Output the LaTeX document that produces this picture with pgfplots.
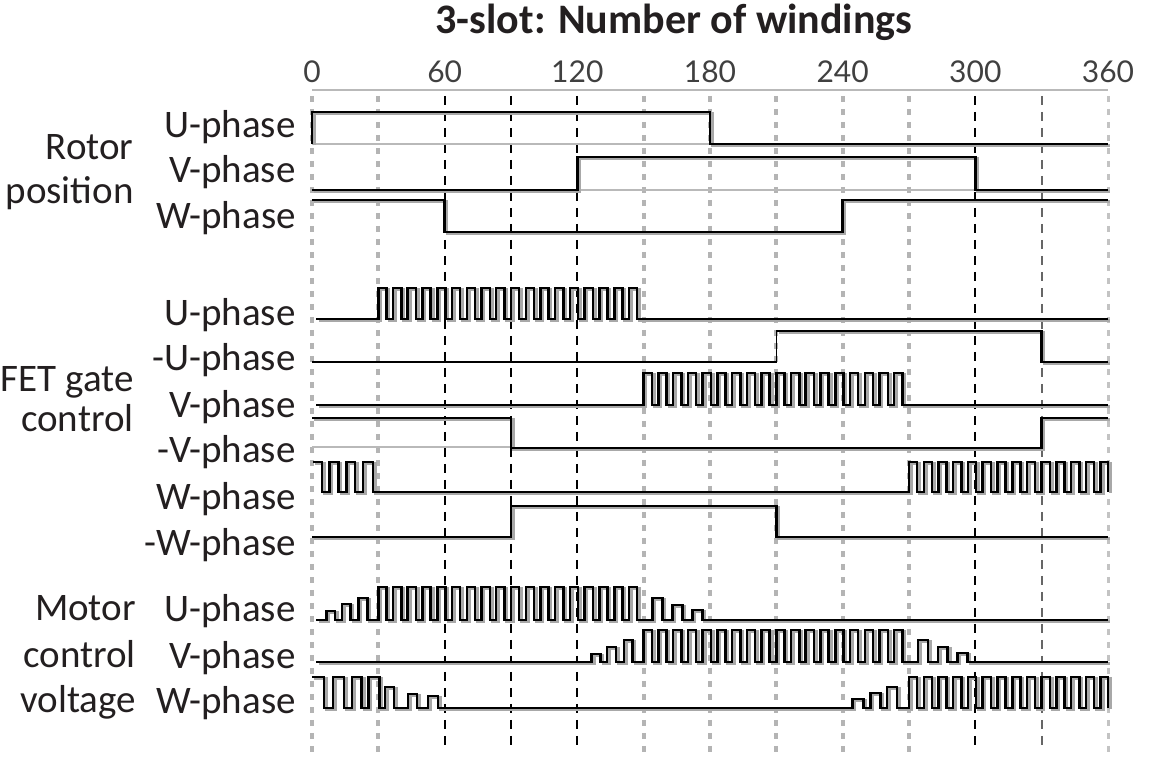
\documentclass[border=0pt]{standalone}
\usepackage{pgfplots}
\pgfplotsset{compat=1.18}
\usepackage{fontspec}
\setmainfont{Carlito}
\newfontfamily\tickfont{Lato}
\definecolor{txt}{HTML}{231F20}
\definecolor{shd}{HTML}{A8A8A8}
\definecolor{gdash}{HTML}{B4B4B4}
\newcommand{\sig}[1]{%
  \addplot[const plot, shd, line width=1.4pt, xshift=1.2pt, yshift=-0.7pt] coordinates {#1};
  \addplot[const plot, black, line width=1.25pt] coordinates {#1};}
\newcommand{\gline}[2]{\addplot[#1] coordinates {(#2,-96) (#2,-752)};}
\tikzset{
  tlab/.style={anchor=base east, font=\fontsize{19.5}{22}\selectfont, text=txt, inner sep=0pt},
  glab/.style={anchor=base east, font=\fontsize{19.5}{22}\selectfont, text=txt, inner sep=0pt},
  tklab/.style={anchor=base, font=\tickfont\fontsize{15}{17}\selectfont, text=black!75, inner sep=0pt},
  gdl/.style={gdash, line width=2pt, dash pattern=on 3pt off 3.5pt},
  bdl/.style={black, line width=1.1pt, dash pattern=on 4.5pt off 3.5pt},
}
\begin{document}
\begin{tikzpicture}
\begin{axis}[
  scale only axis, width=575pt, height=381.5pt,
  xmin=-141.1, xmax=379.0, ymin=-763, ymax=0,
  hide axis, clip=false,
]
\path (axis cs:-141.1,0) rectangle (axis cs:379,-763);
% vertical guide lines
\gline{gdl}{0}
\gline{gdl}{30}
\gline{bdl}{60}
\gline{bdl}{90}
\gline{bdl}{120}
\gline{gdl}{150}
\gline{gdl}{180}
\gline{gdl}{210}
\gline{gdl}{240}
\gline{gdl}{270}
\gline{bdl}{300}
\gline{black!60, line width=0.9pt, dash pattern=on 4.5pt off 3.5pt}{330}
\gline{gdash!80, line width=1.5pt, dash pattern=on 3pt off 3.5pt}{360}
% top line
\addplot[gray!55, line width=1pt] coordinates {(0,-90) (360,-90)};
% thin baselines
\addplot[gray!55, line width=0.6pt] coordinates {(0,-144) (180,-144)};
\addplot[gray!55, line width=0.6pt] coordinates {(120,-190) (300,-190)};
\addplot[gray!55, line width=0.6pt] coordinates {(0,-447) (90,-447)};
% ---- Rotor position ----
\sig{(0,-144) (0,-112) (180,-144) (360,-144)}
\sig{(0,-190) (120,-157) (300,-190) (360,-190)}
\sig{(0,-200) (60,-232) (240,-200) (360,-200)}
% ---- FET gate control ----
\sig{(2,-319) (30,-288) (33.7,-319) (36.7,-288) (40.4,-319) (43.3,-288) (47,-319) (50,-288) (53.7,-319) (56.7,-288) (60.4,-319) (63.3,-288) (67,-319) (70,-288) (73.7,-319) (76.7,-288) (80.4,-319) (83.3,-288) (87,-319) (90,-288) (93.7,-319) (96.7,-288) (100.4,-319) (103.3,-288) (107,-319) (110,-288) (113.7,-319) (116.7,-288) (120.4,-319) (123.3,-288) (127,-319) (130,-288) (133.7,-319) (136.7,-288) (140.4,-319) (143.3,-288) (147,-319) (360,-319)}
\addplot[const plot, black, line width=0.8pt] coordinates {(0,-362) (210,-331) (330,-362) (360,-362)};
\addplot[const plot, shd, line width=1.4pt, xshift=1.2pt, yshift=-0.7pt] coordinates {(210,-331) (330,-362) (360,-362)};
\addplot[const plot, black, line width=1.25pt] coordinates {(210,-331) (330,-362) (360,-362)};
\sig{(2,-405) (150,-373) (153.7,-405) (156.7,-373) (160.4,-405) (163.3,-373) (167,-405) (170,-373) (173.7,-405) (176.7,-373) (180.4,-405) (183.3,-373) (187,-405) (190,-373) (193.7,-405) (196.7,-373) (200.4,-405) (203.3,-373) (207,-405) (210,-373) (213.7,-405) (216.7,-373) (220.4,-405) (223.3,-373) (227,-405) (230,-373) (233.7,-405) (236.7,-373) (240.4,-405) (243.3,-373) (247,-405) (250,-373) (253.7,-405) (256.7,-373) (260.4,-405) (263.3,-373) (267,-405) (360,-405)}
\sig{(0,-418) (90,-448) (330,-418) (360,-418)}
\sig{(0.5,-462) (4.5,-492) (8,-462) (12,-492) (15.5,-462) (19.5,-492) (23,-462) (27.5,-492) (270,-462) (273.7,-492) (276.7,-462) (280.4,-492) (283.3,-462) (287,-492) (290,-462) (293.7,-492) (296.7,-462) (300.4,-492) (303.3,-462) (307,-492) (310,-462) (313.7,-492) (316.7,-462) (320.4,-492) (323.3,-462) (327,-492) (330,-462) (333.7,-492) (336.7,-462) (340.4,-492) (343.3,-462) (347,-492) (350,-462) (353.7,-492) (356.7,-462) (360,-492)}
\sig{(0,-537) (90,-506) (210,-537) (360,-537)}
% ---- Motor control voltage ----
\sig{(2,-620) (6.5,-611) (10.5,-620) (13.5,-604) (17.5,-620) (21,-598) (25,-620) (30,-587) (33.7,-620) (36.7,-587) (40.4,-620) (43.3,-587) (47,-620) (50,-587) (53.7,-620) (56.7,-587) (60.4,-620) (63.3,-587) (67,-620) (70,-587) (73.7,-620) (76.7,-587) (80.4,-620) (83.3,-587) (87,-620) (90,-587) (93.7,-620) (96.7,-587) (100.4,-620) (103.3,-587) (107,-620) (110,-587) (113.7,-620) (116.7,-587) (120.4,-620) (123.3,-587) (127,-620) (130,-587) (133.7,-620) (136.7,-587) (140.4,-620) (143.3,-587) (147,-620) (154,-598) (158.5,-620) (163,-605) (167.5,-620) (172,-610) (176.5,-620) (360,-620)}
\sig{(2,-662) (126.5,-654) (130.5,-662) (133.5,-647) (137.5,-662) (141,-640) (145,-662) (150,-630) (153.7,-662) (156.7,-630) (160.4,-662) (163.3,-630) (167,-662) (170,-630) (173.7,-662) (176.7,-630) (180.4,-662) (183.3,-630) (187,-662) (190,-630) (193.7,-662) (196.7,-630) (200.4,-662) (203.3,-630) (207,-662) (210,-630) (213.7,-662) (216.7,-630) (220.4,-662) (223.3,-630) (227,-662) (230,-630) (233.7,-662) (236.7,-630) (240.4,-662) (243.3,-630) (247,-662) (250,-630) (253.7,-662) (256.7,-630) (260.4,-662) (263.3,-630) (267,-662) (274,-640) (278.5,-662) (283,-647) (287.5,-662) (292,-653) (296.5,-662) (360,-662)}
\sig{(0,-677) (5.5,-708) (9.5,-677) (14.5,-708) (18,-677) (22.5,-708) (25.5,-677) (30.5,-708) (33,-687) (37,-708) (43.5,-694) (47.5,-708) (52.5,-696) (57,-708) (244.5,-699) (249.5,-708) (252.5,-693) (257,-708) (260,-687) (264.5,-708) (270,-677) (273.7,-708) (276.7,-677) (280.4,-708) (283.3,-677) (287,-708) (290,-677) (293.7,-708) (296.7,-677) (300.4,-708) (303.3,-677) (307,-708) (310,-677) (313.7,-708) (316.7,-677) (320.4,-708) (323.3,-677) (327,-708) (330,-677) (333.7,-708) (336.7,-677) (340.4,-708) (343.3,-677) (347,-708) (350,-677) (353.7,-708) (356.7,-677) (360,-708)}
% ---- texts ----
\node[anchor=base, font=\bfseries\fontsize{21}{24}\selectfont, text=txt, inner sep=0pt] at (axis cs:163.7,-34) {3-slot: Number of windings};
\node[tklab] at (axis cs:0,-83) {0};
\node[tklab] at (axis cs:60,-83) {60};
\node[tklab] at (axis cs:120,-83) {120};
\node[tklab] at (axis cs:180,-83) {180};
\node[tklab] at (axis cs:240,-83) {240};
\node[tklab] at (axis cs:300,-83) {300};
\node[tklab] at (axis cs:360,-83) {360};
\node[tlab] at (axis cs:-7.2,-138) {U-phase};
\node[tlab] at (axis cs:-7.2,-183) {V-phase};
\node[tlab] at (axis cs:-7.2,-229) {W-phase};
\node[tlab] at (axis cs:-7.2,-326) {U-phase};
\node[tlab] at (axis cs:-7.2,-371) {-U-phase};
\node[tlab] at (axis cs:-7.2,-418) {V-phase};
\node[tlab] at (axis cs:-7.2,-463) {-V-phase};
\node[tlab] at (axis cs:-7.2,-510) {W-phase};
\node[tlab] at (axis cs:-7.2,-556) {-W-phase};
\node[tlab] at (axis cs:-7.2,-622) {U-phase};
\node[tlab] at (axis cs:-7.2,-669) {V-phase};
\node[tlab] at (axis cs:-7.2,-714) {W-phase};
\node[glab] at (axis cs:-80.5,-160) {Rotor};
\node[glab] at (axis cs:-80.5,-204) {position};
\node[glab] at (axis cs:-80.5,-392) {FET gate};
\node[glab] at (axis cs:-80.5,-432) {control};
\node[glab] at (axis cs:-79.5,-621) {Motor};
\node[glab] at (axis cs:-79.5,-668) {control};
\node[glab] at (axis cs:-79.5,-713) {voltage};
\end{axis}
\end{tikzpicture}
\end{document}
